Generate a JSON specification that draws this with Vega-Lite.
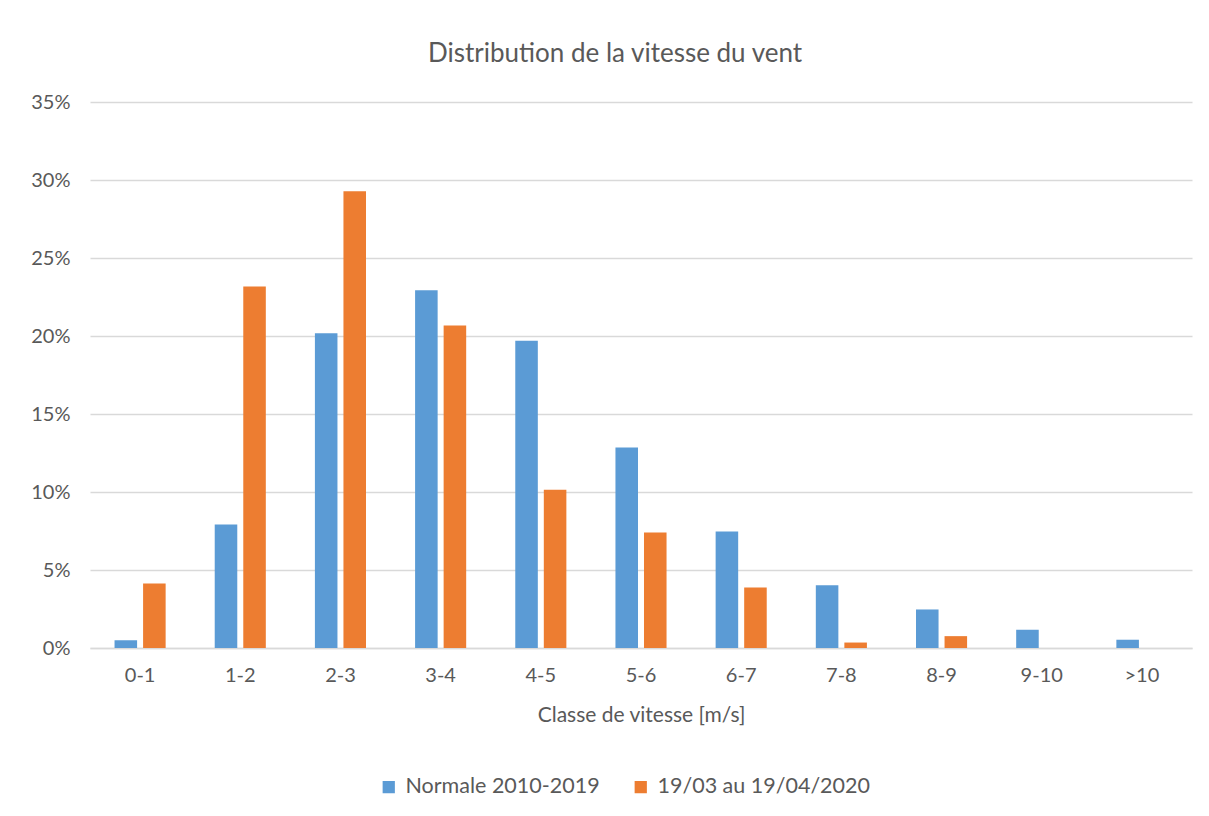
{
  "$schema": "https://vega.github.io/schema/vega-lite/v6.json",
  "width": 1102,
  "height": 546,
  "autosize": {"type": "none"},
  "padding": {"left": 90, "top": 102, "right": 17, "bottom": 168},
  "background": "white",
  "title": {
    "text": "Distribution de la vitesse du vent",
    "font": "Lato",
    "fontSize": 26,
    "fontWeight": "normal",
    "color": "#595959",
    "anchor": "middle",
    "dx": -26,
    "offset": 25
  },
  "data": {
    "values": [
      {"classe": "0-1", "serie": "Normale 2010-2019", "valeur": 0.005},
      {"classe": "0-1", "serie": "19/03 au 19/04/2020", "valeur": 0.0413},
      {"classe": "1-2", "serie": "Normale 2010-2019", "valeur": 0.0792},
      {"classe": "1-2", "serie": "19/03 au 19/04/2020", "valeur": 0.2317},
      {"classe": "2-3", "serie": "Normale 2010-2019", "valeur": 0.2018},
      {"classe": "2-3", "serie": "19/03 au 19/04/2020", "valeur": 0.2928},
      {"classe": "3-4", "serie": "Normale 2010-2019", "valeur": 0.2294},
      {"classe": "3-4", "serie": "19/03 au 19/04/2020", "valeur": 0.2067},
      {"classe": "4-5", "serie": "Normale 2010-2019", "valeur": 0.1969},
      {"classe": "4-5", "serie": "19/03 au 19/04/2020", "valeur": 0.1014},
      {"classe": "5-6", "serie": "Normale 2010-2019", "valeur": 0.1285},
      {"classe": "5-6", "serie": "19/03 au 19/04/2020", "valeur": 0.074},
      {"classe": "6-7", "serie": "Normale 2010-2019", "valeur": 0.0747},
      {"classe": "6-7", "serie": "19/03 au 19/04/2020", "valeur": 0.0388},
      {"classe": "7-8", "serie": "Normale 2010-2019", "valeur": 0.0403},
      {"classe": "7-8", "serie": "19/03 au 19/04/2020", "valeur": 0.0035},
      {"classe": "8-9", "serie": "Normale 2010-2019", "valeur": 0.0247},
      {"classe": "8-9", "serie": "19/03 au 19/04/2020", "valeur": 0.0076},
      {"classe": "9-10", "serie": "Normale 2010-2019", "valeur": 0.0117},
      {"classe": "9-10", "serie": "19/03 au 19/04/2020", "valeur": 0},
      {"classe": ">10", "serie": "Normale 2010-2019", "valeur": 0.0053},
      {"classe": ">10", "serie": "19/03 au 19/04/2020", "valeur": 0}
    ]
  },
  "mark": {"type": "bar"},
  "encoding": {
    "x": {
      "field": "classe",
      "type": "nominal",
      "sort": null,
      "scale": {"paddingInner": 0.49, "paddingOuter": 0.245},
      "axis": {
        "title": "Classe de vitesse [m/s]",
        "labelAngle": 0,
        "labelFont": "Lato",
        "labelFontSize": 20,
        "labelColor": "#595959",
        "labelPadding": 17,
        "titleFont": "Lato",
        "titleFontSize": 21,
        "titleFontWeight": "normal",
        "titleColor": "#595959",
        "titlePadding": 19,
        "ticks": false,
        "domainColor": "#D9D9D9",
        "domainWidth": 1.3
      }
    },
    "xOffset": {
      "field": "serie",
      "type": "nominal",
      "sort": ["Normale 2010-2019", "19/03 au 19/04/2020"],
      "scale": {"paddingInner": 0.21, "paddingOuter": 0}
    },
    "y": {
      "field": "valeur",
      "type": "quantitative",
      "scale": {"domain": [0, 0.35], "nice": false},
      "axis": {
        "title": null,
        "format": ".0%",
        "values": [0, 0.05, 0.1, 0.15, 0.2, 0.25, 0.3, 0.35],
        "labelFont": "Lato",
        "labelFontSize": 20,
        "labelColor": "#595959",
        "labelPadding": 20,
        "ticks": false,
        "domain": false,
        "gridColor": "#D9D9D9",
        "gridWidth": 1.3
      }
    },
    "color": {
      "field": "serie",
      "type": "nominal",
      "sort": ["Normale 2010-2019", "19/03 au 19/04/2020"],
      "scale": {"range": ["#5B9BD5", "#ED7D31"]},
      "legend": {
        "title": null,
        "orient": "none",
        "direction": "horizontal",
        "legendX": 288,
        "legendY": 674,
        "symbolType": "square",
        "symbolSize": 150,
        "symbolStrokeWidth": 0,
        "labelFont": "Lato",
        "labelFontSize": 21.5,
        "labelColor": "#595959",
        "labelOffset": 6,
        "labelLimit": 400,
        "columnPadding": 30
      }
    }
  },
  "config": {
    "view": {"stroke": null}
  }
}
